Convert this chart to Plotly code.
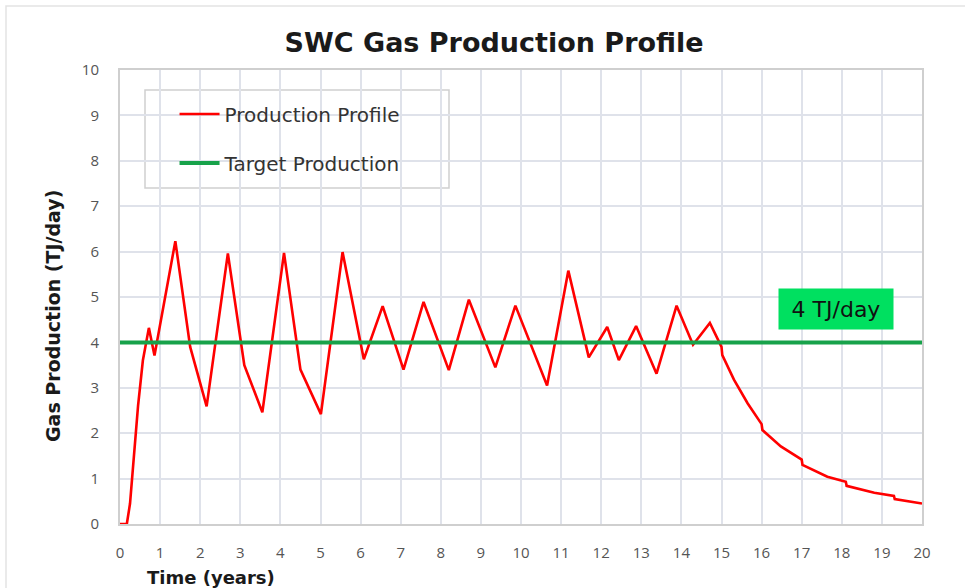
import plotly.graph_objects as go

# Production profile (years, TJ/day)
years = [0.0, 0.17, 0.25, 0.35, 0.45, 0.57, 0.72, 0.86, 1.38, 1.75, 2.16, 2.69, 3.1,
         3.55, 4.09, 4.5, 5.01, 5.55, 6.08, 6.55, 7.07, 7.57, 8.2, 8.7, 9.36, 9.86,
         10.65, 11.18, 11.69, 12.15, 12.44, 12.87, 13.38, 13.88, 14.29, 14.71, 15.0,
         15.02, 15.31, 15.65, 16.0, 16.02, 16.48, 17.0, 17.02, 17.64, 18.1, 18.12,
         18.81, 19.3, 19.32, 20.0]
production = [0.0, 0.0, 0.45, 1.5, 2.6, 3.6, 4.32, 3.71, 6.23, 3.9, 2.59, 5.96, 3.5,
              2.46, 5.97, 3.4, 2.42, 5.99, 3.63, 4.80, 3.40, 4.89, 3.39, 4.94, 3.45, 4.81,
              3.05, 5.58, 3.67, 4.34, 3.61, 4.36, 3.31, 4.81, 3.95, 4.43, 3.9,
              3.72, 3.18, 2.66, 2.2, 2.07, 1.71, 1.42, 1.30, 1.04, 0.93, 0.84,
              0.69, 0.62, 0.55, 0.45]

target_years = [0, 20]
target_level = [4, 4]
target_label = "4 TJ/day"

x_ticks = list(range(0, 21))
y_ticks = list(range(0, 11))

FONT = "DejaVu Sans"
TICK_FONT = "Open Sans"
GRID = "#dfe2ea"

fig = go.Figure()
fig.add_trace(go.Scatter(
    x=years, y=production, mode="lines", name="Production Profile",
    line=dict(color="#ff0000", width=2.6), legendgroup="a",
))
fig.add_trace(go.Scatter(
    x=target_years, y=target_level, mode="lines", name="Target Production",
    line=dict(color="#17a24a", width=4), legendgroup="b",
))

fig.update_layout(
    width=965, height=588,
    margin=dict(l=120, r=43, t=70, b=64),
    paper_bgcolor="white", plot_bgcolor="white",
    font=dict(family=FONT, color="#333"),
    title=dict(text="SWC Gas Production Profile", x=0.512, xanchor="center",
               y=1 - 43 / 588, yanchor="middle", yref="container",
               font=dict(family=FONT, size=27, color="#1a1a1a", weight="bold")),
    showlegend=True,
    legend=dict(x=0.068, y=0.946, xanchor="left", yanchor="top",
                bgcolor="rgba(0,0,0,0)", borderwidth=0,
                font=dict(family=FONT, size=20, color="#333"),
                tracegroupgap=20, itemwidth=40),
    xaxis=dict(range=[0, 20], tickvals=x_ticks, showgrid=True, gridcolor=GRID, gridwidth=1.5,
               zeroline=False, showline=True, linecolor="#cfcfcf", linewidth=2, mirror=True,
               ticks="outside", ticklen=14, tickcolor="rgba(0,0,0,0)",
               tickfont=dict(family=TICK_FONT, size=15, color="#555")),
    yaxis=dict(range=[0, 10], tickvals=y_ticks, showgrid=True, gridcolor=GRID, gridwidth=1.5,
               zeroline=False, showline=True, linecolor="#cfcfcf", linewidth=2, mirror=True,
               ticks="outside", ticklen=16, tickcolor="rgba(0,0,0,0)",
               tickfont=dict(family=TICK_FONT, size=15, color="#555")),
    shapes=[
        # legend frame
        dict(type="rect", xref="paper", yref="paper",
             x0=(145 - 120) / 802, x1=(449 - 120) / 802,
             y0=(524 - 188) / 454, y1=(524 - 90) / 454,
             line=dict(color="#d0d0d0", width=1.5), fillcolor="white", layer="below"),
        # outer frame
        dict(type="rect", xref="paper", yref="paper",
             x0=(6 - 120) / 802, x1=1.2, y0=-0.3, y1=(524 - 6) / 454,
             line=dict(color="#e3e3e3", width=1.5), fillcolor="rgba(0,0,0,0)"),
    ],
    annotations=[
        dict(text="Gas Production (TJ/day)", xref="paper", yref="paper",
             x=(53 - 120) / 802, y=(524 - 316) / 454, textangle=-90, showarrow=False,
             xanchor="center", yanchor="middle",
             font=dict(family=FONT, size=19, color="#1a1a1a", weight="bold")),
        dict(text="Time (years)", xref="paper", yref="paper",
             x=(145 - 120) / 802, y=(524 - 577) / 454, showarrow=False,
             xanchor="left", yanchor="middle",
             font=dict(family=FONT, size=18, color="#1a1a1a", weight="bold")),
        dict(text=target_label, x=17.86, y=4.74, xref="x", yref="y", showarrow=False,
             bgcolor="#00e060", width=110, height=36, borderpad=2,
             font=dict(family=FONT, size=22, color="#111")),
    ],
)

fig.write_html("out.html")
